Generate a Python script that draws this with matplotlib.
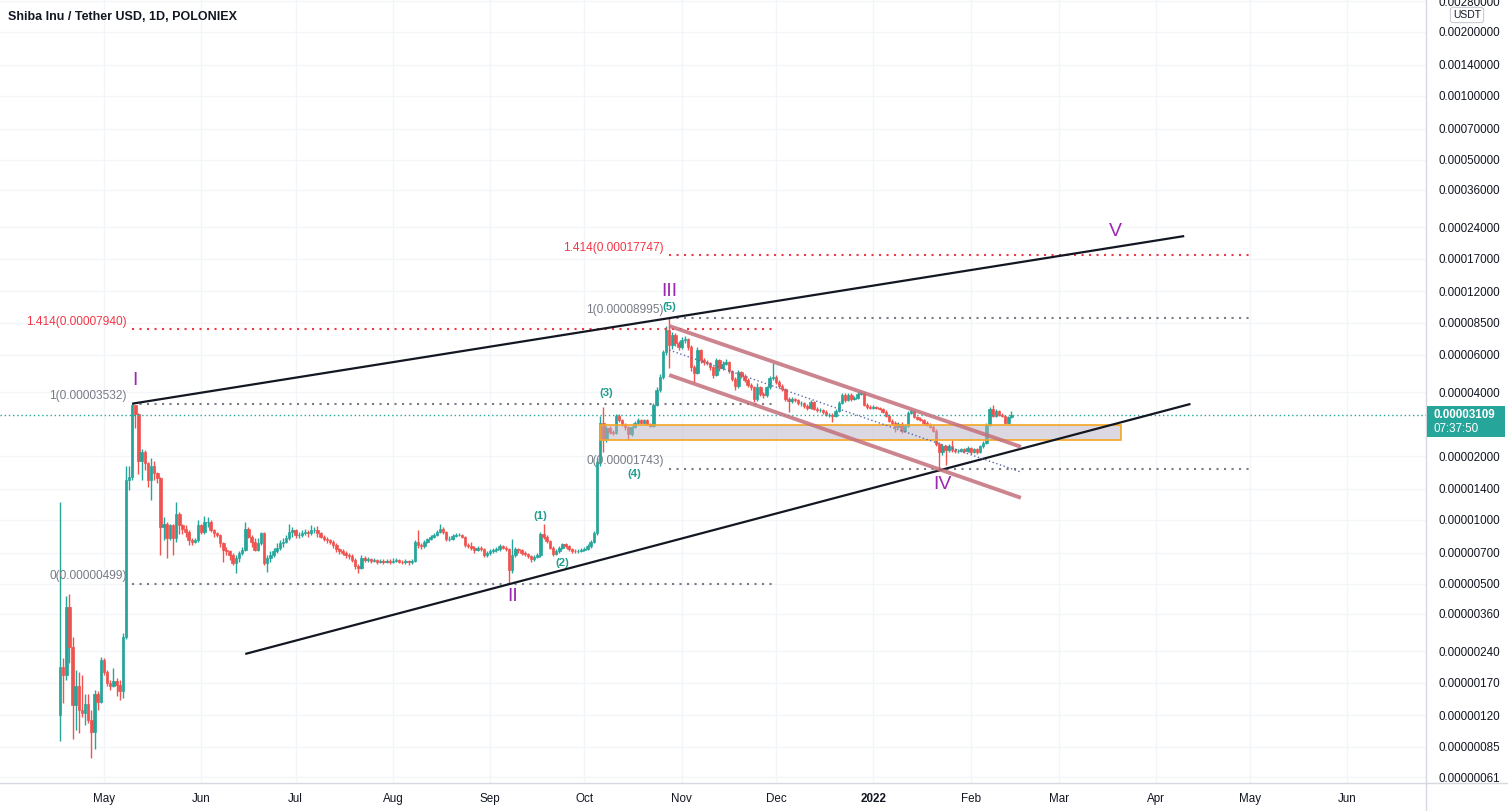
import numpy as np
import matplotlib
matplotlib.use('Agg')
import matplotlib.pyplot as plt
import matplotlib.dates as mdates
from matplotlib.patches import Rectangle

# daily candles, prices in micro-USDT (1e-6)
first_day = '2021-04-17'
first_open = 1.20
closes = [
    2.02, 1.86, 3.90, 2.52, 1.34, 1.64, 1.27, 1.23, 1.36, 1.14,
    1.00, 1.50, 1.39, 2.18, 1.92, 1.70, 1.64, 1.73, 1.67, 1.55,
    2.81, 15.4, 16.0, 34.7, 31.6, 18.9, 21.0, 18.5, 15.4, 17.9,
    16.6, 15.8, 9.3, 9.6, 8.2, 9.45, 8.2, 10.7, 9.45, 9.1,
    8.8, 8.0, 7.9, 8.0, 9.45, 8.8, 9.8, 9.8, 8.95, 8.65,
    8.5, 7.75, 7.2, 7.1, 6.8, 6.25, 6.6, 6.95, 7.2, 9.1,
    8.3, 7.9, 7.2, 7.75, 8.65, 6.25, 6.6, 6.8, 7.1, 7.35,
    7.75, 7.9, 8.2, 8.8, 8.95, 8.5, 8.5, 8.65, 8.8, 8.65,
    8.95, 8.95, 8.65, 8.3, 8.15, 8.0, 7.9, 7.6, 7.25, 7.1,
    6.95, 6.8, 6.75, 6.46, 6.05, 5.95, 6.6, 6.46, 6.5, 6.4,
    6.46, 6.35, 6.4, 6.35, 6.37, 6.32, 6.4, 6.46, 6.35, 6.32,
    6.37, 6.3, 6.4, 7.9, 7.6, 7.5, 7.9, 8.1, 8.3, 8.5,
    8.8, 9.1, 8.8, 8.1, 8.15, 8.4, 8.5, 8.5, 8.3, 7.6,
    7.5, 7.4, 7.2, 7.4, 7.25, 6.8, 6.95, 7.1, 7.2, 7.25,
    7.5, 7.4, 7.3, 5.8, 6.8, 7.25, 7.2, 7.0, 6.9, 6.75,
    6.5, 6.7, 6.8, 8.6, 8.3, 7.95, 7.4, 6.9, 7.1, 7.4,
    7.65, 7.5, 7.25, 7.15, 7.1, 7.12, 7.2, 7.3, 7.5, 7.9,
    8.65, 18.7, 28.6, 24.0, 27.0, 26.0, 25.8, 31.0, 29.6, 28.2,
    27.3, 25.3, 27.3, 28.6, 29.6, 28.6, 29.6, 28.4, 27.8, 34.9,
    41.0, 47.0, 61.9, 78.6, 66.6, 74.4, 68.3, 65.4, 70.5, 71.2,
    65.4, 52.5, 49.5, 63.2, 56.7, 55.5, 55.0, 52.5, 48.2, 56.7,
    52.0, 54.4, 55.5, 50.4, 46.2, 42.8, 49.8, 47.7, 45.7, 43.3,
    42.3, 37.1, 42.3, 39.3, 38.9, 42.3, 46.7, 47.2, 44.7, 42.8,
    41.4, 37.1, 36.3, 37.1, 36.7, 35.5, 35.5, 34.4, 33.7, 35.9,
    33.3, 33.0, 33.0, 32.3, 31.3, 31.3, 31.0, 32.6, 35.5, 38.9,
    36.7, 38.9, 37.1, 37.5, 39.3, 39.7, 34.9, 34.1, 33.7, 34.1,
    33.7, 33.3, 32.3, 31.0, 29.3, 28.7, 27.5, 28.4, 26.3, 27.8,
    32.0, 32.6, 30.6, 30.0, 29.6, 28.7, 28.1, 27.5, 26.3, 22.9,
    20.8, 22.2, 21.3, 22.4, 21.3, 21.1, 21.1, 21.5, 21.1, 21.8,
    20.9, 21.5, 20.8, 22.2, 23.0, 28.1, 33.3, 31.0, 32.6, 31.3,
    31.0, 28.7, 30.6, 31.09,
]
highs = [
    12.2, 2.22, 4.35, 4.45, 2.81, 1.96, 1.92, 1.86, 1.50, 1.50,
    1.27, 1.58, 1.55, 2.26, 2.22, 1.96, 1.76, 2.00, 1.79, 1.76,
    2.92, 17.9, 17.9, 35.32, 34.5, 32.0, 21.6, 21.3, 18.8, 19.5,
    18.9, 16.9, 16.0, 10.3, 9.8, 9.6, 9.6, 12.2, 10.9, 9.6,
    9.45, 8.95, 8.2, 8.2, 10.0, 9.6, 10.4, 10.3, 10.0, 9.1,
    8.8, 8.6, 7.9, 7.45, 7.2, 6.95, 6.8, 7.1, 7.45, 9.8,
    9.3, 8.5, 8.2, 8.2, 8.8, 8.8, 6.8, 7.1, 7.35, 7.8,
    8.0, 8.2, 8.5, 9.6, 9.3, 9.1, 8.8, 8.95, 9.1, 8.95,
    9.45, 9.3, 9.35, 8.8, 8.45, 8.3, 8.15, 8.0, 7.75, 7.4,
    7.25, 7.1, 7.0, 6.9, 6.6, 6.2, 6.8, 6.75, 6.65, 6.6,
    6.6, 6.55, 6.55, 6.5, 6.5, 6.5, 6.6, 6.6, 6.55, 6.45,
    6.5, 6.45, 6.55, 8.0, 8.95, 7.75, 8.05, 8.25, 8.45, 8.7,
    9.0, 9.6, 9.3, 8.9, 8.35, 8.55, 8.65, 8.7, 8.6, 8.4,
    7.75, 7.9, 7.5, 7.55, 7.5, 7.35, 7.1, 7.25, 7.35, 7.45,
    7.7, 7.6, 7.55, 7.4, 8.15, 7.45, 7.4, 7.3, 7.1, 7.0,
    6.85, 6.85, 6.95, 8.8, 9.6, 8.45, 8.05, 7.5, 7.3, 7.55,
    7.8, 7.75, 7.6, 7.35, 7.25, 7.25, 7.35, 7.45, 7.65, 8.05,
    8.85, 19.5, 31.0, 34.0, 27.8, 27.6, 26.6, 31.6, 31.5, 30.0,
    28.6, 27.6, 27.8, 29.1, 30.1, 30.0, 30.0, 29.9, 28.7, 35.5,
    42.5, 48.5, 63.5, 82.0, 89.95, 76.5, 76.0, 70.0, 72.5, 73.5,
    72.0, 66.5, 54.0, 65.4, 64.0, 58.0, 56.8, 55.8, 53.0, 58.0,
    57.5, 56.0, 57.5, 56.0, 51.0, 47.0, 51.0, 50.5, 48.5, 46.5,
    44.0, 43.0, 44.1, 43.0, 40.0, 43.0, 47.5, 55.0, 48.0, 45.5,
    43.5, 42.0, 37.8, 37.8, 37.6, 37.2, 36.3, 36.0, 35.0, 36.6,
    36.3, 34.0, 33.6, 33.5, 32.8, 32.0, 31.9, 33.2, 36.2, 39.6,
    39.5, 39.8, 39.6, 38.3, 40.0, 40.6, 40.0, 35.5, 34.7, 34.8,
    34.6, 34.2, 33.8, 32.8, 31.4, 29.8, 29.2, 29.0, 28.9, 28.3,
    32.6, 33.3, 33.0, 31.0, 30.4, 30.0, 29.1, 28.5, 27.9, 26.7,
    23.3, 22.7, 22.6, 22.9, 23.8, 21.7, 21.6, 21.9, 21.9, 22.3,
    22.1, 21.9, 21.8, 22.6, 23.5, 28.6, 34.0, 34.8, 33.4, 33.0,
    31.9, 31.3, 31.0, 32.5,
]
lows = [
    0.91, 1.37, 1.75, 2.12, 0.93, 1.02, 0.99, 1.18, 1.08, 1.10,
    0.75, 0.83, 1.27, 1.37, 1.86, 1.64, 1.58, 1.62, 1.47, 1.41,
    1.44, 2.75, 13.8, 15.4, 27.0, 16.5, 15.4, 17.2, 14.3, 12.4,
    15.4, 14.9, 6.8, 8.0, 6.6, 8.0, 6.8, 7.9, 8.6, 8.6,
    8.3, 7.6, 7.6, 7.8, 7.9, 8.6, 8.6, 9.3, 8.8, 8.3,
    8.3, 7.45, 6.35, 6.8, 6.46, 6.1, 5.6, 6.35, 6.8, 7.1,
    8.2, 7.45, 7.1, 7.1, 7.6, 6.1, 5.7, 6.35, 6.7, 6.95,
    7.2, 7.45, 7.8, 8.0, 8.3, 8.2, 8.2, 8.3, 8.5, 8.3,
    8.5, 8.65, 8.3, 8.2, 7.95, 7.8, 7.7, 7.4, 7.05, 6.9,
    6.8, 6.6, 6.55, 6.3, 5.85, 5.6, 5.85, 6.3, 6.3, 6.25,
    6.3, 6.2, 6.25, 6.2, 6.25, 6.2, 6.25, 6.3, 6.25, 6.2,
    6.2, 6.15, 6.2, 6.35, 7.4, 7.3, 7.4, 7.8, 8.0, 8.2,
    8.4, 8.7, 8.6, 7.95, 7.95, 8.05, 8.3, 8.35, 8.2, 7.45,
    7.35, 7.2, 7.0, 7.1, 7.1, 6.65, 6.7, 6.85, 7.0, 7.05,
    7.15, 7.25, 7.15, 4.99, 5.6, 6.7, 7.0, 6.85, 6.75, 6.6,
    6.35, 6.4, 6.6, 6.7, 8.1, 7.8, 7.25, 6.75, 6.8, 7.0,
    7.3, 7.35, 7.1, 7.0, 6.95, 7.0, 7.05, 7.1, 7.2, 7.4,
    7.8, 8.5, 18.0, 21.0, 23.3, 25.3, 25.0, 25.3, 29.0, 27.6,
    26.6, 23.8, 24.8, 27.0, 28.2, 28.2, 28.2, 28.0, 27.3, 27.5,
    34.3, 40.0, 46.0, 60.0, 52.0, 64.0, 66.0, 63.0, 64.0, 68.5,
    63.5, 50.5, 44.9, 48.5, 55.0, 54.0, 53.5, 51.0, 46.7, 47.5,
    50.5, 51.0, 53.5, 49.5, 45.0, 41.0, 42.0, 46.5, 44.5, 42.5,
    41.0, 36.0, 36.5, 38.5, 37.5, 38.0, 41.5, 45.5, 43.8, 42.0,
    40.5, 36.3, 32.3, 35.5, 35.8, 34.8, 34.6, 33.8, 33.0, 33.3,
    32.8, 32.3, 32.3, 31.7, 30.8, 30.6, 29.0, 30.5, 32.2, 35.0,
    36.0, 36.2, 36.5, 36.6, 37.0, 38.8, 34.3, 33.5, 33.2, 33.2,
    33.2, 32.8, 31.8, 30.4, 28.8, 28.0, 26.0, 27.0, 25.8, 25.9,
    27.5, 31.5, 30.1, 29.5, 29.1, 28.2, 27.6, 27.0, 25.9, 22.3,
    17.43, 20.3, 18.2, 20.9, 20.9, 20.7, 20.6, 20.8, 20.7, 20.8,
    20.5, 20.6, 20.4, 20.6, 21.8, 22.7, 27.8, 30.5, 30.6, 30.8,
    30.4, 28.2, 28.4, 30.2,
]

price_ticks = [2800, 2000, 1400, 1000, 700, 500, 360, 240, 170, 120, 85, 60, 40,
               20, 14, 10, 7, 5, 3.6, 2.4, 1.7, 1.2, 0.85, 0.61]
month_ticks = ['2021-05-01', '2021-06-01', '2021-07-01', '2021-08-01', '2021-09-01',
               '2021-10-01', '2021-11-01', '2021-12-01', '2022-01-01', '2022-02-01',
               '2022-03-01', '2022-04-01', '2022-05-01', '2022-06-01']
month_labels = ['May', 'Jun', 'Jul', 'Aug', 'Sep', 'Oct', 'Nov', 'Dec', '2022',
                'Feb', 'Mar', 'Apr', 'May', 'Jun']

# fib retracements: start date, end date, (level, price)
fibs = [
    ('2021-05-10', '2021-12-01', [(1.414, 79.40), (1, 35.32), (0, 4.99)]),
    ('2021-10-28', '2022-05-02', [(1.414, 177.47), (1, 89.95), (0, 17.43)]),
]
trend_lines = [
    (('2021-05-10', 35.3), ('2022-04-10', 218)),
    (('2021-06-15', 2.33), ('2022-04-12', 35.2)),
]
channel = [
    (('2021-10-28', 82.1), ('2022-02-17', 22.1)),
    (('2021-10-28', 48.2), ('2022-02-17', 12.7)),
]
channel_mid = (('2021-10-28', 63.2), ('2022-02-17', 16.8))
zone = ('2021-10-06', '2022-03-21', 23.8, 28.0)

waves = [('I', '2021-05-11', 45.2), ('II', '2021-09-08', 4.37), ('III', '2021-10-28', 120),
         ('IV', '2022-01-23', 14.6), ('V', '2022-03-19', 228)]
sub_waves = [('(1)', '2021-09-17', 10.4), ('(2)', '2021-09-24', 6.26), ('(3)', '2021-10-08', 39.6),
             ('(4)', '2021-10-17', 16.4), ('(5)', '2021-10-28', 100.9)]

U = 1e-6
UP, DOWN = '#26a69a', '#ef5350'
TXT = '#131722'
plt.rcParams['font.family'] = ['Liberation Sans', 'DejaVu Sans']


def dn(s):
    return mdates.datestr2num(s)


fig = plt.figure(figsize=(15.08, 8.11), dpi=100)
ax = fig.add_axes([0, 28 / 811, 1426 / 1508, 783 / 811])

x = mdates.date2num(np.arange(np.datetime64(first_day), np.datetime64(first_day) + len(closes)))
c = np.array(closes) * U
o = np.concatenate([[first_open * U], c[:-1]])
h = np.array(highs) * U
l = np.array(lows) * U
col = np.where(c >= o, UP, DOWN)
top = np.maximum(o, c)
bot = np.minimum(o, c)

ax.vlines(x, l, h, colors=col, linewidth=1.0, zorder=2)
ax.bar(x, top - bot, bottom=bot, width=0.8, color=col, edgecolor=col, linewidth=0.5, zorder=2)

ax.set_yscale('log')
ax.set_ylim(0.5736 * U, 2831 * U)
x0 = dn('2021-05-01')
ax.set_xlim(x0 - 33.1, x0 + 421)

# grid and axes
ax.set_yticks([v * U for v in price_ticks])
ax.set_yticklabels([f'{v * U:.8f}' for v in price_ticks])
ax.yaxis.set_minor_locator(matplotlib.ticker.NullLocator())
ax.set_xticks([dn(m) for m in month_ticks])
ax.set_xticklabels(month_labels)
for lbl in ax.get_xticklabels():
    if lbl.get_text() == '2022':
        lbl.set_fontweight('bold')
ax.grid(True, color='#f3f5f9', linewidth=1, zorder=0)
ax.set_axisbelow(True)
ax.yaxis.tick_right()
ax.tick_params(axis='y', length=0, pad=9, labelsize=8.4, labelcolor=TXT)
ax.tick_params(axis='x', length=0, pad=7, labelsize=8.4, labelcolor=TXT)
for s in ['top', 'left']:
    ax.spines[s].set_visible(False)
for s in ['right', 'bottom']:
    ax.spines[s].set_color('#d6d9e0')
    ax.spines[s].set_linewidth(1)
fig.add_artist(plt.Line2D([1426 / 1508, 1], [28 / 811, 28 / 811], color='#d6d9e0', lw=1))
fig.add_artist(plt.Line2D([1426 / 1508, 1426 / 1508], [0, 28 / 811], color='#d6d9e0', lw=1))

dotted = (0, (1, 2.6))

# fib levels
for start, end, levels in fibs:
    for lvl, p in levels:
        clr = '#f23645' if lvl == 1.414 else '#787b86'
        ax.plot([dn(start), dn(end)], [p * U, p * U], color=clr, lw=1.5, linestyle=dotted, zorder=3)
        ax.annotate(f'{lvl:g}({p * U:.8f})', xy=(dn(start), p * U), xytext=(-4, 1),
                    textcoords='offset points', ha='right', va='bottom', color=clr, fontsize=8.6, zorder=4)

# trend lines
for (d1, p1), (d2, p2) in trend_lines:
    ax.plot([dn(d1), dn(d2)], [p1 * U, p2 * U], color='#131722', lw=1.6, zorder=4, solid_capstyle='butt')
for (d1, p1), (d2, p2) in channel:
    ax.plot([dn(d1), dn(d2)], [p1 * U, p2 * U], color='#c4707b', alpha=0.85, lw=2.8, zorder=4,
            solid_capstyle='butt')
(d1, p1), (d2, p2) = channel_mid
ax.plot([dn(d1), dn(d2)], [p1 * U, p2 * U], color='#5b6aa8', lw=1, linestyle=(0, (1, 1.8)), zorder=4)

zd1, zd2, zp1, zp2 = zone
ax.add_patch(Rectangle((dn(zd1), zp1 * U), dn(zd2) - dn(zd1), (zp2 - zp1) * U,
                       facecolor='#b8b3c4', alpha=0.5, edgecolor='none', zorder=3))
ax.add_patch(Rectangle((dn(zd1), zp1 * U), dn(zd2) - dn(zd1), (zp2 - zp1) * U,
                       facecolor='none', edgecolor='#f5a623', lw=1.2, zorder=3))

# last price line
last = closes[-1] * U
ax.axhline(last, color=UP, lw=1, linestyle=(0, (1, 2)), zorder=3)

for txt, d, p in waves:
    ax.text(dn(d), p * U, txt, color='#9c27b0', fontsize=14, ha='center', va='center', zorder=5)
for txt, d, p in sub_waves:
    ax.text(dn(d), p * U, txt, color='#1f9e8f', fontsize=8.2, fontweight='bold', ha='center',
            va='center', zorder=5)

# price label on the axis
ydisp = ax.transData.transform((ax.get_xlim()[0], last))[1]
fig.add_artist(Rectangle((1427 / 1508, (ydisp - 22) / 811), 78 / 1508, 31 / 811,
                         transform=fig.transFigure, facecolor=UP, edgecolor='none'))
fig.text(1433 / 1508, ydisp / 811, f'{last:.8f}', color='white', fontsize=8.4, fontweight='bold',
         ha='left', va='center')
fig.text(1433 / 1508, (ydisp - 14) / 811, '07:37:50', color='white', fontsize=8.4,
         ha='left', va='center')

fig.text(1467 / 1508, 1 - 15 / 811, 'USDT', color=TXT, fontsize=7.5, ha='center', va='center',
         bbox=dict(boxstyle='round,pad=0.25', facecolor='white', edgecolor='#c9ccd3', lw=0.8))
fig.text(8 / 1508, 1 - 17 / 811, 'Shiba Inu / Tether USD, 1D, POLONIEX', color=TXT,
         fontsize=9, fontweight='bold', ha='left', va='center')

fig.savefig('out.png', dpi=100)
